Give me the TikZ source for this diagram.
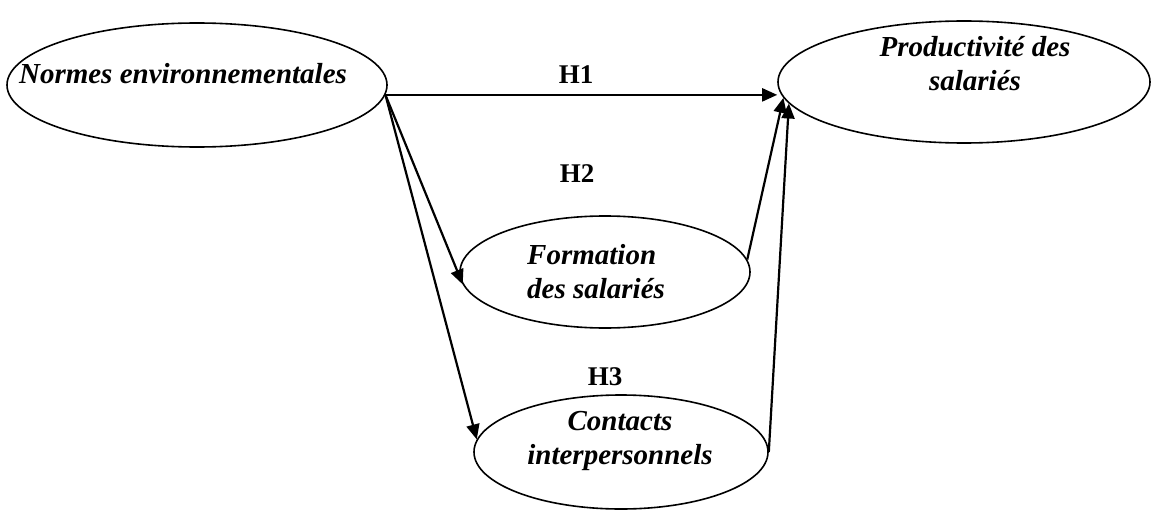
\documentclass[tikz,border=0pt]{standalone}
\usepackage{fontspec}
\setmainfont{Liberation Serif}
\usetikzlibrary{shapes.geometric,arrows.meta}

\begin{document}
\begin{tikzpicture}[x=1pt,y=-1pt,
  bulle/.style={draw, ellipse, line width=1.6pt, inner sep=0pt},
  texte/.style={font=\fontsize{29}{34}\selectfont\bfseries\itshape, inner sep=0pt},
  hyp/.style={font=\fontsize{27}{32}\selectfont\bfseries, inner sep=0pt},
  fleche/.style={draw, line width=2.2pt, -{Triangle[length=15pt,width=13pt]}}]
\useasboundingbox (0,0) rectangle (1153,516);

\node[bulle, minimum width=380pt, minimum height=124pt] (norm) at (197,85) {};
\node[bulle, minimum width=372pt, minimum height=122pt] (prod) at (964,82) {};
\node[bulle, minimum width=290pt, minimum height=112pt] (form) at (605,272) {};
\node[bulle, minimum width=294pt, minimum height=114pt] (cont) at (621,452) {};

\node[texte] (normtxt) at (183,74) {Normes environnementales};
\node[texte, align=center] (prodtxt) at (975,64) {Productivité des\\salariés};
\node[texte, align=left, anchor=west] (formtxt) at (527,272) {Formation\\des salariés};
\node[texte, align=center] (conttxt) at (620,441) {Contacts\\interpersonnels};

\node[hyp] (h1) at (576,75) {H1};
\node[hyp] (h2) at (577,174) {H2};
\node[hyp] (h3) at (605,377) {H3};

\path[fleche] (norm.-3) -- (prod.west |- norm.-3);
\path[fleche] (norm.-3) -- (form.185);
\path[fleche] (norm.-3) -- (cont.175);
\path[fleche] (form.5) -- (prod.185);
\path[fleche] (cont.east) -- (prod.187);
\end{tikzpicture}
\end{document}
